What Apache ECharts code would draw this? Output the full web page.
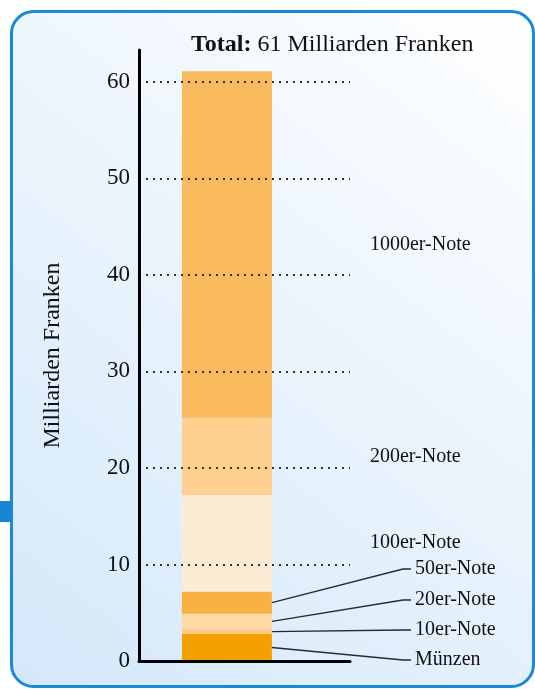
<!DOCTYPE html>
<html>
<head>
<meta charset="utf-8">
<script src="https://cdn.jsdelivr.net/npm/echarts@6/dist/echarts.min.js"></script>
<style>
  html, body { margin: 0; padding: 0; background: #fff; }
  #chart { width: 535px; height: 689px; }
</style>
</head>
<body>
<div id="chart"></div>
<script>
// category slots: the bar sits in the third slot so it lands left of centre
const slots = ['', '', 'Notenumlauf', '', '', ''];
const barSlot = 2;

const segmentNames = ['Münzen', '10er-Note', '20er-Note', '50er-Note', '100er-Note', '200er-Note', '1000er-Note'];
const segmentValues = [2.8, 0.5, 1.6, 2.3, 10.0, 8.0, 35.9];
const segmentColors = ['#f4a000', '#fcc987', '#fdd9a3', '#f9b241', '#fdecd5', '#fdd08f', '#f9bb5d'];
const yTicks = [0, 10, 20, 30, 40, 50, 60];
const totalLabel = '61 Milliarden Franken';

// small segments get a label below right with a leader line (pixel y of the label)
const calloutY = { 'Münzen': 660, '10er-Note': 630, '20er-Note': 600, '50er-Note': 569 };

const serif = 'Liberation Serif';
const BAR_W = 90;
const chart = echarts.init(document.getElementById('chart'));

// leader line data: [slot, middle of the segment, label pixel y]
const leaderData = [];
let acc = 0;
segmentValues.forEach((v, i) => {
  const cy = calloutY[segmentNames[i]];
  if (cy !== undefined) leaderData.push([barSlot, acc + v / 2, cy]);
  acc += v;
});

const option = {
  animation: false,
  graphic: [
    {
      type: 'rect', z: -10, silent: true,
      shape: { x: 11.5, y: 11.5, width: 522, height: 675, r: 22 },
      style: {
        fill: new echarts.graphic.LinearGradient(0, 1, 1, 0, [
          { offset: 0, color: '#d3e8fa' },
          { offset: 1, color: '#ffffff' }
        ]),
        stroke: '#1a8ad5', lineWidth: 3
      }
    },
    {
      type: 'rect', z: -9, silent: true,
      shape: { x: 0, y: 501, width: 11, height: 21 },
      style: { fill: '#1a86d3' }
    }
  ],
  title: {
    text: '{b|Total:}{n| ' + totalLabel + '}',
    left: 186,
    top: 28,
    textStyle: {
      fontFamily: serif, fontSize: 24, color: '#111',
      rich: {
        b: { fontFamily: serif, fontSize: 24, fontWeight: 'bold', color: '#111' },
        n: { fontFamily: serif, fontSize: 24, fontWeight: 'normal', color: '#111' }
      }
    }
  },
  grid: { left: 139, top: 50, width: 211, bottom: 28, containLabel: false },
  xAxis: {
    type: 'category',
    data: slots,
    z: 3,
    axisLine: { show: true, lineStyle: { color: '#000', width: 3 } },
    axisTick: { show: false },
    axisLabel: { show: false },
    splitLine: { show: false }
  },
  yAxis: {
    type: 'value',
    min: 0,
    max: 63.3,
    interval: 10,
    z: 3,
    name: 'Milliarden Franken',
    nameLocation: 'middle',
    nameRotate: 90,
    nameGap: 74,
    nameTextStyle: { fontFamily: serif, fontSize: 24, color: '#111' },
    axisLine: { show: true, lineStyle: { color: '#000', width: 3 } },
    axisTick: { show: false },
    axisLabel: {
      showMaxLabel: false, margin: 9,
      fontFamily: serif, fontSize: 23, color: '#111',
      formatter: v => (yTicks.includes(v) ? String(v) : '')
    },
    splitLine: {
      show: true, showMinLine: false, showMaxLine: false,
      lineStyle: { color: '#3b2f22', width: 2, type: [2, 5] }
    }
  },
  series: segmentNames.map((name, i) => {
    const cy = calloutY[name];
    const s = {
      name: name,
      type: 'bar',
      stack: 'total',
      barWidth: BAR_W,
      itemStyle: { color: segmentColors[i] },
      data: slots.map((_, k) => (k === barSlot ? segmentValues[i] : null)),
      label: {
        show: true,
        formatter: name,
        position: 'right',
        distance: 98,
        fontFamily: serif, fontSize: 20, color: '#111'
      }
    };
    if (cy !== undefined) {
      s.labelLayout = { x: 415, y: cy, align: 'left', verticalAlign: 'middle' };
    }
    return s;
  }).concat([{
    type: 'custom',
    name: 'leader',
    silent: true,
    z: 4,
    data: leaderData,
    renderItem: (params, api) => {
      const p = api.coord([api.value(0), api.value(1)]);
      const x0 = p[0] + BAR_W / 2;
      const ly = api.value(2);
      return {
        type: 'polyline',
        shape: { points: [[x0, p[1]], [403, ly], [411, ly]] },
        style: { stroke: '#2a2a2a', lineWidth: 1.3, fill: null }
      };
    }
  }])
};

chart.setOption(option);
window.addEventListener('resize', () => chart.resize());
</script>
</body>
</html>
